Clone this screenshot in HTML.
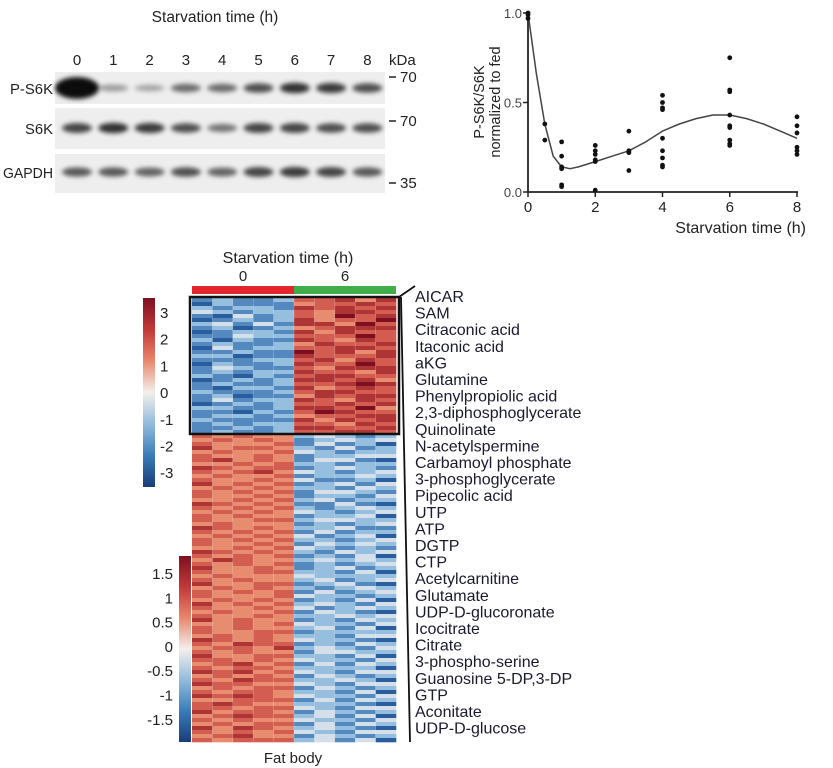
<!DOCTYPE html>
<html><head><meta charset="utf-8"><style>
body{margin:0;background:#fff}
svg{display:block;font-family:"Liberation Sans",sans-serif;fill:#222}
</style></head><body>
<svg id="fig" width="833" height="768" viewBox="0 0 833 768">
<defs>
<filter id="blur" x="-30%" y="-100%" width="160%" height="300%"><feGaussianBlur stdDeviation="2.4"/></filter>
<linearGradient id="cb1" x1="0" y1="0" x2="0" y2="1">
<stop offset="0" stop-color="#7d1020"/><stop offset="0.17" stop-color="#c33a3a"/><stop offset="0.33" stop-color="#e8866a"/><stop offset="0.5" stop-color="#f3efec"/><stop offset="0.67" stop-color="#8fbadb"/><stop offset="0.83" stop-color="#3b7dba"/><stop offset="1" stop-color="#183c78"/></linearGradient>
</defs>
<g id="blot"></g>
<g id="scatter"></g>
<g id="heat"></g>
</svg>
<script>
const NS="http://www.w3.org/2000/svg";
function mk(parent,tag,attrs,text){const e=document.createElementNS(NS,tag);for(const k in attrs)e.setAttribute(k,attrs[k]);if(text!==undefined)e.textContent=text;parent.appendChild(e);return e;}

// ---------- Western blot data ----------
const laneLabels=["0","1","2","3","4","5","6","7","8"];
const ps6kIntensity=[1.0,0.25,0.2,0.5,0.5,0.65,0.8,0.75,0.65];
const s6kIntensity=[0.7,0.8,0.75,0.65,0.45,0.7,0.7,0.65,0.65];
const gapdhIntensity=[0.6,0.6,0.55,0.65,0.55,0.7,0.75,0.7,0.6];

const blot=document.getElementById('blot');
const laneX=i=>77+i*36.3;
let t=mk(blot,'text',{x:215,y:22,'text-anchor':'middle','font-size':15.5},'Starvation time (h)');


laneLabels.forEach((l,i)=>{const e=mk(blot,'text',{x:laneX(i),y:65,'text-anchor':'middle','font-size':15},l);

});
t=mk(blot,'text',{x:389,y:65,'font-size':15},'kDa');


const rows=[{name:'P-S6K',y0:72,y1:104,by:88,vals:ps6kIntensity,ly:94},{name:'S6K',y0:108,y1:149,by:128,vals:s6kIntensity,ly:134},{name:'GAPDH',y0:154,y1:193,by:172,vals:gapdhIntensity,ly:178}];
rows.forEach(r=>{
 const p=mk(blot,'rect',{x:55,y:r.y0,width:330,height:r.y1-r.y0,fill:'#eeeeee'});
 
 
 const lb=mk(blot,'text',{x:53,y:r.ly,'text-anchor':'end','font-size':14.5,textLength:r.name==='GAPDH'?50:(r.name==='S6K'?28:43),lengthAdjust:'spacingAndGlyphs'},r.name);
 
 
 r.vals.forEach((v,i)=>{
  const big=v>0.95;
  const b=mk(blot,'ellipse',{cx:laneX(i),cy:r.by,rx:big?22:15,ry:big?11:2.5+v*3.5,fill:'#000','fill-opacity':Math.min(1,0.15+v*0.8),filter:'url(#blur)'});
  
  
 });
});
[[82,'70'],[126,'70'],[188,'35']].forEach(m=>{
 mk(blot,'line',{x1:389,x2:396,y1:m[0]-5,y2:m[0]-5,stroke:'#222','stroke-width':1.5});
 const e=mk(blot,'text',{x:400,y:m[0],'font-size':15},m[1]);
 
 
});

// ---------- Scatter data ----------
const ptTimes=[0,0,0,0.5,0.5,1,1,1,1,1,1,2,2,2,2,2,2,3,3,3,3,4,4,4,4,4,4,4,4,4,6,6,6,6,6,6,6,6,6,8,8,8,8,8,8];
const ptValues=[1,0.99,0.97,0.38,0.29,0.28,0.2,0.14,0.13,0.04,0.03,0.26,0.23,0.21,0.17,0.18,0.01,0.34,0.23,0.22,0.12,0.54,0.5,0.47,0.46,0.3,0.23,0.19,0.15,0.14,0.75,0.57,0.56,0.43,0.37,0.36,0.29,0.27,0.26,0.42,0.37,0.33,0.25,0.23,0.21];
const fitTimes=[0,0.25,0.5,0.75,1,1.25,1.5,2,2.5,3,3.5,4,4.5,5,5.5,6,6.5,7,7.5,8];
const fitValues=[1,0.66,0.38,0.2,0.14,0.13,0.14,0.17,0.2,0.23,0.28,0.34,0.38,0.41,0.43,0.43,0.41,0.38,0.34,0.3];
const xTicks=[0,2,4,6,8];
const yTicks=[0,0.5,1.0];
const yTickLabels=["0.0","0.5","1.0"];

const sc=document.getElementById('scatter');
const sx=v=>528+v*(797-528)/8, sy=v=>192-v*(192-13);
mk(sc,'line',{x1:528,x2:528,y1:12,y2:192,stroke:'#222','stroke-width':1.8});
mk(sc,'line',{x1:528,x2:798,y1:192,y2:192,stroke:'#222','stroke-width':1.8});
yTicks.forEach((v,i)=>{mk(sc,'line',{x1:523,x2:528,y1:sy(v),y2:sy(v),stroke:'#222','stroke-width':1.5});
 const e=mk(sc,'text',{x:522,y:sy(v)+5,'text-anchor':'end','font-size':13,'fill':'#444'},yTickLabels[i]);
 
 });
xTicks.forEach(v=>{mk(sc,'line',{x1:sx(v),x2:sx(v),y1:192,y2:197,stroke:'#222','stroke-width':1.5});
 const e=mk(sc,'text',{x:sx(v),y:212,'text-anchor':'middle','font-size':15},String(v));
 
 });
t=mk(sc,'text',{x:806,y:233,'text-anchor':'end','font-size':16},'Starvation time (h)');


const yt=mk(sc,'g',{transform:'translate(484,102) rotate(-90)'});


mk(yt,'text',{x:0,y:0,'text-anchor':'middle','font-size':14.5},'P-S6K/S6K');
mk(yt,'text',{x:0,y:16,'text-anchor':'middle','font-size':14.5},'normalized to fed');
let d='';fitTimes.forEach((tt,i)=>{d+=(i?'L':'M')+sx(tt).toFixed(1)+' '+sy(fitValues[i]).toFixed(1);});
const fl=mk(sc,'path',{d:d,fill:'none',stroke:'#444','stroke-width':1.5,'stroke-linejoin':'round'});


ptTimes.forEach((tt,i)=>{const c=mk(sc,'circle',{cx:sx(tt),cy:sy(ptValues[i]),r:2.4,fill:'#111'});
 
 });

// ---------- Heatmap data (levels 0..9 map -3..3) ----------
const upRows=["2322377868","1322267787","3233287878","4323376887","2142376978","1232386779","3424288697","2312367888","1233286877","2243377797","3132287687","2322368778","1423377887","2232297868","3312287778","2223378687","1322387797","2432276888","2323387768","3213278877","1232388786","2322377898","2133286787","3222378877","2312268788","2423387687","1232377878","3322388796","2213279877","2332367788","3222286878","2323377687","2232388778","2322377887"];
const downRows=["7676634323","6767623434","7666724231","8677632423","6766743233","7667623344","7867624421","6676733233","8767723432","7678643234",
"6766723343","7667642231","8676723424","6767633243","7676724432","7667623324","6676734233","8767622421","7676732343","6767643234",
"7676623341","7667734433","6766623234","8767633422","7676724233","6767642341","7676733234","7667624343","6676743232","8767632434",
"7676723241","6876634343","7676723234","8667623423","7667733241","6766643333","7676634234","8667723421","6767632343","7676724234",
"7666743323","6767623241","8676734324","7667642343","6766724321","7667633434","8676623243","6676743324","7676634241","7667723333",
"6767633244","8767643321","7687723243","6776834324","7676624433","8667733241","7767643324","6786724243","7677633331","8786743244",
"6767624323","7687733431","8776643244","6767724323","7677633241","8787643324","6677724243","7876633321","7767743244","8677624323",
"6787734241","7676643324","6767724243","8687634321","7676743244","6786624323","7677734241"];
const groupLabels=["0","6"];
const metabolites=["AICAR","SAM","Citraconic acid","Itaconic acid","aKG","Glutamine","Phenylpropiolic acid","2,3-diphosphoglycerate","Quinolinate","N-acetylspermine","Carbamoyl phosphate","3-phosphoglycerate","Pipecolic acid","UTP","ATP","DGTP","CTP","Acetylcarnitine","Glutamate","UDP-D-glucoronate","Icocitrate","Citrate","3-phospho-serine","Guanosine 5-DP,3-DP","GTP","Aconitate","UDP-D-glucose"];
const cb1Labels=["3","2","1","0","-1","-2","-3"];
const cb2Labels=["1.5","1","0.5","0","-0.5","-1","-1.5"];

const anchors=[[24,60,120],[50,110,175],[150,190,222],[243,240,238],[232,140,112],[200,70,64],[125,16,32]];
function col(level){const v=level/9*6;const i=Math.min(5,Math.floor(v));const f=v-i;const a=anchors[i],b=anchors[i+1];
 return 'rgb('+a.map((c,k)=>Math.round(c+(b[k]-c)*f)).join(',')+')';}
const hm=document.getElementById('heat');
const hx0=192,cw=20.4,hy0=298,rh=4;
t=mk(hm,'text',{x:288,y:263,'text-anchor':'middle','font-size':16},'Starvation time (h)');


groupLabels.forEach((g,i)=>{const e=mk(hm,'text',{x:hx0+cw*2.5+i*cw*5,y:281,'text-anchor':'middle','font-size':15},g);
 
 
 const r=mk(hm,'rect',{x:hx0+i*cw*5,y:286,width:cw*5,height:8,fill:i?'#3fae49':'#e3262b'});
 
 });
upRows.concat(downRows).forEach((row,ri)=>{for(let c=0;c<10;c++){
 const r=mk(hm,'rect',{x:hx0+c*cw,y:hy0+ri*rh,width:cw+0.3,height:rh+0.3,fill:col(+row[c])});
 
 }});
for(let c=1;c<10;c++)mk(hm,'line',{x1:hx0+c*cw,x2:hx0+c*cw,y1:298,y2:742,stroke:'#fff','stroke-opacity':0.35,'stroke-width':0.6});
const bx=mk(hm,'rect',{x:190,y:297,width:209,height:137,fill:'none',stroke:'#111','stroke-width':2.5});


mk(hm,'polyline',{points:'399,297 415,286',fill:'none',stroke:'#111','stroke-width':1.8});
mk(hm,'line',{x1:401,x2:410,y1:297,y2:742,stroke:'#111','stroke-width':1.8});
metabolites.forEach((m,i)=>{const e=mk(hm,'text',{x:415,y:302+i*16.6,'font-size':16,fill:'#1a1a2e'},m);
 
 });
t=mk(hm,'text',{x:293,y:763,'text-anchor':'middle','font-size':15},'Fat body');


let cbar=mk(hm,'rect',{x:143,y:298,width:12,height:189,fill:'url(#cb1)'});


cb1Labels.forEach((l,i)=>{const e=mk(hm,'text',{x:160,y:318+i*26.7,'font-size':15},l);
 
 });
cbar=mk(hm,'rect',{x:179,y:556,width:12,height:186,fill:'url(#cb1)'});


cb2Labels.forEach((l,i)=>{const e=mk(hm,'text',{x:173,y:579+i*24.3,'text-anchor':'end','font-size':15},l);
 
 });
</script>
</body></html>
